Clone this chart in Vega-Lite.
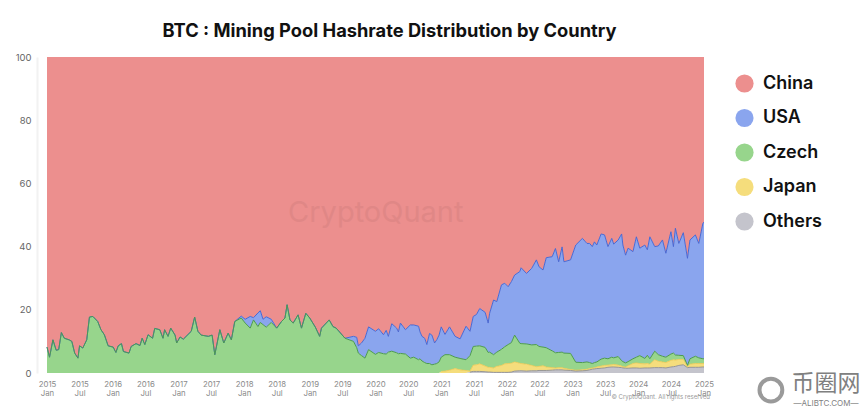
{"$schema":"https://vega.github.io/schema/vega-lite/v6.json","width":657,"height":316,"autosize":{"type":"none"},"padding":{"left":47,"top":57,"right":156,"bottom":37},"background":"white","title":{"text":"BTC : Mining Pool Hashrate Distribution by Country","font":"Inter","fontSize":18.3,"fontWeight":700,"color":"#111111","anchor":"middle","dx":14,"offset":11},"config":{"view":{"stroke":null}},"layer":[{"data":{"values":[
{"d":"2015-01-01","China":91.8,"USA":0,"Czech":8.2,"Japan":0,"Others":0},
{"d":"2015-01-15","China":95,"USA":0,"Czech":5,"Japan":0,"Others":0},
{"d":"2015-02-03","China":89.5,"USA":0,"Czech":10.5,"Japan":0,"Others":0},
{"d":"2015-02-21","China":92.8,"USA":0,"Czech":7.2,"Japan":0,"Others":0},
{"d":"2015-03-07","China":92.6,"USA":0,"Czech":7.4,"Japan":0,"Others":0},
{"d":"2015-03-22","China":87.2,"USA":0,"Czech":12.8,"Japan":0,"Others":0},
{"d":"2015-04-07","China":89,"USA":0,"Czech":11,"Japan":0,"Others":0},
{"d":"2015-05-04","China":89.5,"USA":0,"Czech":10.5,"Japan":0,"Others":0},
{"d":"2015-05-19","China":90,"USA":0,"Czech":10,"Japan":0,"Others":0},
{"d":"2015-06-04","China":93.7,"USA":0,"Czech":6.3,"Japan":0,"Others":0},
{"d":"2015-06-22","China":95.3,"USA":0,"Czech":4.7,"Japan":0,"Others":0},
{"d":"2015-07-01","China":91.4,"USA":0,"Czech":8.6,"Japan":0,"Others":0},
{"d":"2015-07-19","China":92.1,"USA":0,"Czech":7.9,"Japan":0,"Others":0},
{"d":"2015-08-10","China":89.5,"USA":0,"Czech":10.5,"Japan":0,"Others":0},
{"d":"2015-08-25","China":82.3,"USA":0,"Czech":17.7,"Japan":0,"Others":0},
{"d":"2015-09-13","China":82.1,"USA":0,"Czech":17.9,"Japan":0,"Others":0},
{"d":"2015-10-10","China":83.7,"USA":0,"Czech":16.3,"Japan":0,"Others":0},
{"d":"2015-10-28","China":86.3,"USA":0,"Czech":13.7,"Japan":0,"Others":0},
{"d":"2015-11-16","China":87.9,"USA":0,"Czech":12.1,"Japan":0,"Others":0},
{"d":"2015-12-07","China":91.4,"USA":0,"Czech":8.6,"Japan":0,"Others":0},
{"d":"2016-01-04","China":91.8,"USA":0,"Czech":8.2,"Japan":0,"Others":0},
{"d":"2016-01-19","China":93.5,"USA":0,"Czech":6.5,"Japan":0,"Others":0},
{"d":"2016-02-01","China":91.4,"USA":0,"Czech":8.6,"Japan":0,"Others":0},
{"d":"2016-02-19","China":90.7,"USA":0,"Czech":9.3,"Japan":0,"Others":0},
{"d":"2016-03-01","China":93.2,"USA":0,"Czech":6.8,"Japan":0,"Others":0},
{"d":"2016-04-01","China":93.7,"USA":0,"Czech":6.3,"Japan":0,"Others":0},
{"d":"2016-04-13","China":91.6,"USA":0,"Czech":8.4,"Japan":0,"Others":0},
{"d":"2016-05-10","China":90.7,"USA":0,"Czech":9.3,"Japan":0,"Others":0},
{"d":"2016-06-01","China":91.3,"USA":0,"Czech":8.7,"Japan":0,"Others":0},
{"d":"2016-06-13","China":89,"USA":0,"Czech":11,"Japan":0,"Others":0},
{"d":"2016-06-28","China":91,"USA":0,"Czech":9,"Japan":0,"Others":0},
{"d":"2016-07-16","China":87.9,"USA":0,"Czech":12.1,"Japan":0,"Others":0},
{"d":"2016-08-10","China":89,"USA":0,"Czech":11,"Japan":0,"Others":0},
{"d":"2016-08-22","China":85.9,"USA":0,"Czech":14.1,"Japan":0,"Others":0},
{"d":"2016-09-19","China":86.3,"USA":0,"Czech":13.7,"Japan":0,"Others":0},
{"d":"2016-10-07","China":89,"USA":0,"Czech":11,"Japan":0,"Others":0},
{"d":"2016-10-16","China":86.3,"USA":0,"Czech":13.7,"Japan":0,"Others":0},
{"d":"2016-11-04","China":88.4,"USA":0,"Czech":11.6,"Japan":0,"Others":0},
{"d":"2016-11-19","China":85.8,"USA":0,"Czech":14.2,"Japan":0,"Others":0},
{"d":"2016-12-13","China":88,"USA":0,"Czech":12,"Japan":0,"Others":0},
{"d":"2016-12-22","China":90.5,"USA":0,"Czech":9.5,"Japan":0,"Others":0},
{"d":"2017-01-10","China":88.6,"USA":0,"Czech":11.4,"Japan":0,"Others":0},
{"d":"2017-01-28","China":89.3,"USA":0,"Czech":10.7,"Japan":0,"Others":0},
{"d":"2017-03-13","China":86.8,"USA":0,"Czech":13.2,"Japan":0,"Others":0},
{"d":"2017-04-01","China":82.3,"USA":0,"Czech":17.7,"Japan":0,"Others":0},
{"d":"2017-04-19","China":86.8,"USA":0,"Czech":13.2,"Japan":0,"Others":0},
{"d":"2017-05-07","China":88,"USA":0,"Czech":12,"Japan":0,"Others":0},
{"d":"2017-06-16","China":88.4,"USA":0,"Czech":11.6,"Japan":0,"Others":0},
{"d":"2017-07-07","China":88,"USA":0,"Czech":12,"Japan":0,"Others":0},
{"d":"2017-07-22","China":94.2,"USA":0,"Czech":5.8,"Japan":0,"Others":0},
{"d":"2017-08-19","China":86.3,"USA":0,"Czech":13.7,"Japan":0,"Others":0},
{"d":"2017-09-10","China":90.5,"USA":0,"Czech":9.5,"Japan":0,"Others":0},
{"d":"2017-10-04","China":87.4,"USA":0,"Czech":12.6,"Japan":0,"Others":0},
{"d":"2017-10-22","China":89.5,"USA":0,"Czech":10.5,"Japan":0,"Others":0},
{"d":"2017-11-10","China":83.7,"USA":0,"Czech":16.3,"Japan":0,"Others":0},
{"d":"2017-12-16","China":82,"USA":0.6,"Czech":17.4,"Japan":0,"Others":0},
{"d":"2018-01-07","China":83,"USA":1.2,"Czech":15.8,"Japan":0,"Others":0},
{"d":"2018-02-04","China":82.1,"USA":3.7,"Czech":14.2,"Japan":0,"Others":0},
{"d":"2018-02-22","China":82.5,"USA":0.7,"Czech":16.8,"Japan":0,"Others":0},
{"d":"2018-03-19","China":81,"USA":4.3,"Czech":14.7,"Japan":0,"Others":0},
{"d":"2018-04-01","China":80.3,"USA":3.7,"Czech":16,"Japan":0,"Others":0},
{"d":"2018-04-16","China":83,"USA":1.7,"Czech":15.3,"Japan":0,"Others":0},
{"d":"2018-05-04","China":82.2,"USA":3.3,"Czech":14.5,"Japan":0,"Others":0},
{"d":"2018-06-01","China":83,"USA":1,"Czech":16,"Japan":0,"Others":0},
{"d":"2018-07-01","China":85.8,"USA":0,"Czech":14.2,"Japan":0,"Others":0},
{"d":"2018-07-28","China":83.7,"USA":0,"Czech":16.3,"Japan":0,"Others":0},
{"d":"2018-08-16","China":82.6,"USA":0,"Czech":17.4,"Japan":0,"Others":0},
{"d":"2018-08-28","China":78.4,"USA":0,"Czech":21.6,"Japan":0,"Others":0},
{"d":"2018-09-13","China":83.2,"USA":0,"Czech":16.8,"Japan":0,"Others":0},
{"d":"2018-10-01","China":84.2,"USA":0,"Czech":15.8,"Japan":0,"Others":0},
{"d":"2018-10-28","China":81.6,"USA":0,"Czech":18.4,"Japan":0,"Others":0},
{"d":"2018-11-16","China":85.8,"USA":0,"Czech":14.2,"Japan":0,"Others":0},
{"d":"2018-12-10","China":81.1,"USA":0,"Czech":18.9,"Japan":0,"Others":0},
{"d":"2019-01-01","China":82.6,"USA":0,"Czech":17.4,"Japan":0,"Others":0},
{"d":"2019-02-01","China":85.5,"USA":0,"Czech":14.5,"Japan":0,"Others":0},
{"d":"2019-02-25","China":88.4,"USA":0,"Czech":11.6,"Japan":0,"Others":0},
{"d":"2019-03-07","China":85.8,"USA":0,"Czech":14.2,"Japan":0,"Others":0},
{"d":"2019-04-19","China":83.2,"USA":0,"Czech":16.8,"Japan":0,"Others":0},
{"d":"2019-05-10","China":85.3,"USA":0,"Czech":14.7,"Japan":0,"Others":0},
{"d":"2019-05-28","China":85.8,"USA":0,"Czech":14.2,"Japan":0,"Others":0},
{"d":"2019-07-16","China":89,"USA":0,"Czech":11,"Japan":0,"Others":0},
{"d":"2019-09-01","China":88.4,"USA":1.6,"Czech":10,"Japan":0,"Others":0},
{"d":"2019-09-19","China":88.7,"USA":3.3,"Czech":8,"Japan":0,"Others":0},
{"d":"2019-09-28","China":91.4,"USA":2.3,"Czech":6.3,"Japan":0,"Others":0},
{"d":"2019-10-16","China":90.5,"USA":4,"Czech":5.5,"Japan":0,"Others":0},
{"d":"2019-11-04","China":89,"USA":6.3,"Czech":4.7,"Japan":0,"Others":0},
{"d":"2019-11-24","China":85.4,"USA":7.2,"Czech":7.4,"Japan":0,"Others":0},
{"d":"2020-01-01","China":86.8,"USA":7.3,"Czech":5.9,"Japan":0,"Others":0},
{"d":"2020-01-19","China":86,"USA":7.5,"Czech":6.5,"Japan":0,"Others":0},
{"d":"2020-02-15","China":87.9,"USA":6,"Czech":6.1,"Japan":0,"Others":0},
{"d":"2020-03-01","China":86.5,"USA":7.5,"Czech":6,"Japan":0,"Others":0},
{"d":"2020-03-13","China":88.4,"USA":5,"Czech":6.6,"Japan":0,"Others":0},
{"d":"2020-04-01","China":84.4,"USA":8.7,"Czech":6.9,"Japan":0,"Others":0},
{"d":"2020-04-28","China":85.8,"USA":7.8,"Czech":6.4,"Japan":0,"Others":0},
{"d":"2020-05-08","China":87,"USA":6.9,"Czech":6.1,"Japan":0,"Others":0},
{"d":"2020-05-19","China":84.2,"USA":9.6,"Czech":6.2,"Japan":0,"Others":0},
{"d":"2020-06-16","China":86.3,"USA":7.7,"Czech":6,"Japan":0,"Others":0},
{"d":"2020-07-13","China":84.8,"USA":10.5,"Czech":4.7,"Japan":0,"Others":0},
{"d":"2020-08-01","China":84.8,"USA":10.2,"Czech":5,"Japan":0,"Others":0},
{"d":"2020-08-28","China":85.2,"USA":10.6,"Czech":4.2,"Japan":0,"Others":0},
{"d":"2020-09-05","China":87,"USA":8.5,"Czech":4.5,"Japan":0,"Others":0},
{"d":"2020-09-16","China":88.4,"USA":7.8,"Czech":3.8,"Japan":0,"Others":0},
{"d":"2020-10-01","China":89,"USA":7.7,"Czech":3.3,"Japan":0,"Others":0},
{"d":"2020-10-13","China":91,"USA":6,"Czech":3,"Japan":0,"Others":0},
{"d":"2020-10-28","China":87.5,"USA":9.5,"Czech":3,"Japan":0,"Others":0},
{"d":"2020-11-10","China":88,"USA":9.4,"Czech":2.6,"Japan":0,"Others":0},
{"d":"2020-11-25","China":90.5,"USA":6.7,"Czech":2.8,"Japan":0,"Others":0},
{"d":"2020-12-07","China":89.5,"USA":7.5,"Czech":3,"Japan":0,"Others":0},
{"d":"2020-12-20","China":88,"USA":8.5,"Czech":3.5,"Japan":0,"Others":0},
{"d":"2021-01-01","China":85.4,"USA":9.6,"Czech":4.5,"Japan":0.5,"Others":0},
{"d":"2021-01-22","China":87.8,"USA":6.4,"Czech":5.2,"Japan":0.6,"Others":0},
{"d":"2021-02-16","China":85.4,"USA":8.8,"Czech":4.9,"Japan":0.9,"Others":0},
{"d":"2021-03-19","China":88.4,"USA":6.6,"Czech":3.6,"Japan":1.4,"Others":0},
{"d":"2021-04-16","China":89.2,"USA":6.2,"Czech":3.6,"Japan":1,"Others":0},
{"d":"2021-05-19","China":85.2,"USA":10.6,"Czech":3.4,"Japan":0.8,"Others":0},
{"d":"2021-06-10","China":86.8,"USA":7.7,"Czech":4.9,"Japan":0.3,"Others":0.3},
{"d":"2021-06-28","China":82.1,"USA":9.5,"Czech":5.9,"Japan":2,"Others":0.5},
{"d":"2021-07-16","China":81.5,"USA":10,"Czech":5.9,"Japan":2.1,"Others":0.5},
{"d":"2021-08-03","China":79.6,"USA":11.8,"Czech":5.7,"Japan":2.4,"Others":0.5},
{"d":"2021-09-02","China":80.8,"USA":11.1,"Czech":5.9,"Japan":1.8,"Others":0.4},
{"d":"2021-09-19","China":84.2,"USA":9.3,"Czech":4.7,"Japan":1.5,"Others":0.3},
{"d":"2021-09-27","China":81.1,"USA":12.3,"Czech":4.8,"Japan":1.5,"Others":0.3},
{"d":"2021-10-19","China":76.9,"USA":17.3,"Czech":4.2,"Japan":1.4,"Others":0.2},
{"d":"2021-11-06","China":77.4,"USA":16,"Czech":4.5,"Japan":1.9,"Others":0.2},
{"d":"2021-12-02","China":72.1,"USA":20.4,"Czech":5.1,"Japan":2.2,"Others":0.2},
{"d":"2021-12-20","China":71.6,"USA":20.1,"Czech":5.4,"Japan":2.7,"Others":0.2},
{"d":"2022-01-08","China":72.7,"USA":18.3,"Czech":6,"Japan":2.8,"Others":0.2},
{"d":"2022-01-26","China":71.1,"USA":19.3,"Czech":6.5,"Japan":2.8,"Others":0.3},
{"d":"2022-02-13","China":69,"USA":19,"Czech":8.5,"Japan":2.9,"Others":0.6},
{"d":"2022-03-14","China":67.9,"USA":22.7,"Czech":6.3,"Japan":2.4,"Others":0.7},
{"d":"2022-03-21","China":66.7,"USA":24,"Czech":6.3,"Japan":2.3,"Others":0.7},
{"d":"2022-04-20","China":68.5,"USA":22.3,"Czech":6.4,"Japan":2.2,"Others":0.6},
{"d":"2022-05-19","China":66.9,"USA":24.2,"Czech":6.5,"Japan":1.7,"Others":0.7},
{"d":"2022-06-14","China":64.2,"USA":26.8,"Czech":7,"Japan":1.3,"Others":0.7},
{"d":"2022-06-29","China":66.4,"USA":25.2,"Czech":6.3,"Japan":1.3,"Others":0.8},
{"d":"2022-07-21","China":67.4,"USA":24.4,"Czech":5.9,"Japan":1.5,"Others":0.8},
{"d":"2022-08-08","China":63.5,"USA":28.5,"Czech":6.1,"Japan":1.1,"Others":0.8},
{"d":"2022-09-10","China":63.2,"USA":29.8,"Czech":5.3,"Japan":0.8,"Others":0.9},
{"d":"2022-09-28","China":60.6,"USA":33,"Czech":4.8,"Japan":0.6,"Others":1},
{"d":"2022-10-16","China":64.8,"USA":28.7,"Czech":4.8,"Japan":0.7,"Others":1},
{"d":"2022-11-04","China":60.1,"USA":33.3,"Czech":4.9,"Japan":0.7,"Others":1},
{"d":"2022-11-14","China":64.8,"USA":28.9,"Czech":4.8,"Japan":0.6,"Others":0.9},
{"d":"2022-12-21","China":64.2,"USA":29.6,"Czech":5.1,"Japan":0.3,"Others":0.8},
{"d":"2023-01-19","China":59.5,"USA":37.1,"Czech":2.5,"Japan":0.3,"Others":0.6},
{"d":"2023-02-25","China":57.4,"USA":39.3,"Czech":2.3,"Japan":0.3,"Others":0.7},
{"d":"2023-03-22","China":59,"USA":37.5,"Czech":2.3,"Japan":0.4,"Others":0.8},
{"d":"2023-04-06","China":59,"USA":37.7,"Czech":1.9,"Japan":0.4,"Others":1},
{"d":"2023-04-21","China":60,"USA":37,"Czech":1.4,"Japan":0.4,"Others":1.2},
{"d":"2023-05-03","China":58.5,"USA":38.2,"Czech":1.6,"Japan":0.4,"Others":1.3},
{"d":"2023-05-16","China":59.5,"USA":37,"Czech":1.6,"Japan":0.5,"Others":1.4},
{"d":"2023-06-09","China":56,"USA":39.6,"Czech":2.2,"Japan":0.7,"Others":1.5},
{"d":"2023-06-28","China":56.3,"USA":39,"Czech":2.3,"Japan":0.8,"Others":1.6},
{"d":"2023-07-17","China":60,"USA":35.5,"Czech":2,"Japan":0.7,"Others":1.8},
{"d":"2023-08-07","China":57.4,"USA":37.6,"Czech":2.4,"Japan":0.7,"Others":1.9},
{"d":"2023-08-18","China":59.2,"USA":36,"Czech":2.1,"Japan":0.8,"Others":1.9},
{"d":"2023-09-12","China":57.9,"USA":36.9,"Czech":2.7,"Japan":0.7,"Others":1.8},
{"d":"2023-10-01","China":56,"USA":40.1,"Czech":1.7,"Japan":0.5,"Others":1.7},
{"d":"2023-10-08","China":59.5,"USA":36.9,"Czech":1.6,"Japan":0.4,"Others":1.6},
{"d":"2023-10-23","China":62.7,"USA":34.1,"Czech":1.3,"Japan":0.4,"Others":1.5},
{"d":"2023-11-06","China":60.5,"USA":35.9,"Czech":1.3,"Japan":0.8,"Others":1.5},
{"d":"2023-12-03","China":61.6,"USA":33.9,"Czech":1.5,"Japan":1.4,"Others":1.6},
{"d":"2023-12-22","China":56.9,"USA":38.1,"Czech":1.8,"Japan":1.6,"Others":1.6},
{"d":"2024-01-10","China":60.5,"USA":34,"Czech":2.5,"Japan":1.5,"Others":1.5},
{"d":"2024-02-07","China":59.5,"USA":35.9,"Czech":1.7,"Japan":1.3,"Others":1.6},
{"d":"2024-02-21","China":61,"USA":33.4,"Czech":2.6,"Japan":1.4,"Others":1.6},
{"d":"2024-03-06","China":56.9,"USA":38.6,"Czech":1.7,"Japan":1.2,"Others":1.6},
{"d":"2024-04-02","China":60,"USA":33.1,"Czech":2.7,"Japan":2.5,"Others":1.7},
{"d":"2024-04-22","China":59.8,"USA":34.4,"Czech":2.1,"Japan":2,"Others":1.7},
{"d":"2024-05-15","China":57.9,"USA":36.8,"Czech":1.8,"Japan":1.8,"Others":1.7},
{"d":"2024-06-03","China":62.1,"USA":32.9,"Czech":1.7,"Japan":1.7,"Others":1.6},
{"d":"2024-07-01","China":55.3,"USA":38.7,"Czech":2,"Japan":2.1,"Others":1.9},
{"d":"2024-07-15","China":60,"USA":33.7,"Czech":2.1,"Japan":2.2,"Others":2},
{"d":"2024-07-26","China":54.2,"USA":40.1,"Czech":1.6,"Japan":2,"Others":2.1},
{"d":"2024-08-14","China":59,"USA":35.4,"Czech":1.3,"Japan":1.9,"Others":2.4},
{"d":"2024-09-08","China":55.6,"USA":38.9,"Czech":1.2,"Japan":1.7,"Others":2.6},
{"d":"2024-10-01","China":63.7,"USA":33.9,"Czech":0.4,"Japan":0.3,"Others":1.7},
{"d":"2024-10-15","China":57.9,"USA":37.6,"Czech":1.7,"Japan":1,"Others":1.8},
{"d":"2024-11-14","China":56.3,"USA":38.4,"Czech":2.3,"Japan":1.2,"Others":1.8},
{"d":"2024-12-03","China":59,"USA":36.2,"Czech":1.8,"Japan":1.2,"Others":1.8},
{"d":"2024-12-26","China":52.6,"USA":42.9,"Czech":1.5,"Japan":1.1,"Others":1.9},
{"d":"2025-01-01","China":52.3,"USA":43.2,"Czech":1.5,"Japan":1.1,"Others":1.9}
],"format":{"parse":{"d":"utc:'%Y-%m-%d'"}}},"transform":[{"fold":["China","USA","Czech","Japan","Others"],"as":["country","share"]},{"lookup":"country","from":{"data":{"values":[{"country":"Others","rank":1},{"country":"Japan","rank":2},{"country":"Czech","rank":3},{"country":"USA","rank":4},{"country":"China","rank":5}]},"key":"country","fields":["rank"]}},{"stack":"share","groupby":["d"],"sort":[{"field":"rank","order":"ascending"}],"as":["low","high"]}],"layer":[{"mark":{"type":"area","interpolate":"linear"},"encoding":{"x":{"field":"d","type":"temporal","scale":{"type":"utc","domain":[{"year":2015,"month":1,"date":1,"utc":true},{"year":2025,"month":1,"date":1,"utc":true}]},"axis":{"title":null,"grid":false,"domain":false,"ticks":false,"tickCount":{"interval":"month","step":6},"labelExpr":"[utcFormat(datum.value,'%Y'),utcFormat(datum.value,'%b')]","labelFont":"Inter","labelFontSize":7.8,"labelColor":"#8a8a8a","labelLineHeight":9,"labelPadding":7,"labelOverlap":false,"labelBound":false,"labelFlush":false}},"y":{"field":"low","type":"quantitative","scale":{"domain":[0,100]},"axis":{"title":null,"grid":false,"offset":10,"values":[0,20,40,60,80,100],"domain":true,"domainColor":"#f2f2f2","domainWidth":2,"ticks":false,"labelFont":"Inter","labelFontSize":9.5,"labelColor":"#666666","labelPadding":6}},"y2":{"field":"high"},"color":{"field":"country","type":"nominal","scale":{"domain":["China","USA","Czech","Japan","Others"],"range":["#ec8f8e","#8aa5ee","#97d58c","#f5dd7c","#c4c4cc"]},"legend":{"title":null,"orient":"none","legendX":688,"legendY":17,"symbolType":"circle","symbolSize":330,"symbolStrokeWidth":0,"labelFont":"Inter","labelFontSize":18,"labelFontWeight":600,"labelColor":"#111111","labelOffset":9,"rowPadding":15.5,"symbolOpacity":1}}}},{"transform":[{"filter":"datum.country == 'USA'"}],"mark":{"type":"line","interpolate":"linear","strokeWidth":1,"color":"#4a68d2"},"encoding":{"x":{"field":"d","type":"temporal"},"y":{"field":"high","type":"quantitative"}}},{"transform":[{"filter":"datum.country == 'Czech'"}],"mark":{"type":"line","interpolate":"linear","strokeWidth":1,"color":"#4c9a50"},"encoding":{"x":{"field":"d","type":"temporal"},"y":{"field":"high","type":"quantitative"}}},{"transform":[{"filter":"datum.country == 'Japan' && datum.share > 0"}],"mark":{"type":"line","interpolate":"linear","strokeWidth":0.8,"color":"#e8c850"},"encoding":{"x":{"field":"d","type":"temporal"},"y":{"field":"high","type":"quantitative"}}},{"transform":[{"filter":"datum.country == 'Others' && datum.share > 0"}],"mark":{"type":"line","interpolate":"linear","strokeWidth":0.9,"color":"#8f8f8f"},"encoding":{"x":{"field":"d","type":"temporal"},"y":{"field":"high","type":"quantitative"}}}]},{"data":{"values":[{}]},"mark":{"type":"text","text":"CryptoQuant","font":"Inter","fontSize":29,"color":"#e08786","align":"center","baseline":"middle"},"encoding":{"x":{"datum":{"year":2020,"month":1,"date":3,"utc":true},"type":"temporal"},"y":{"datum":50.6,"type":"quantitative"}}},{"data":{"values":[{}]},"mark":{"type":"text","text":"© CryptoQuant. All rights reserved","font":"Inter","fontSize":6,"color":"#999999","align":"right","baseline":"middle"},"encoding":{"x":{"datum":{"year":2025,"month":2,"date":3,"utc":true},"type":"temporal"},"y":{"datum":-7.6,"type":"quantitative"}}},{"data":{"values":[{}]},"mark":{"type":"text","text":"币圈网","font":"Noto Sans CJK SC","fontSize":23,"color":"#808080","align":"center","baseline":"middle"},"encoding":{"x":{"datum":{"year":2026,"month":11,"date":10,"utc":true},"type":"temporal"},"y":{"datum":-3.5,"type":"quantitative"}}},{"data":{"values":[{}]},"mark":{"type":"text","text":"—ALIBTC.COM—","font":"Inter","fontSize":8,"color":"#808080","align":"center","baseline":"middle"},"encoding":{"x":{"datum":{"year":2026,"month":11,"date":10,"utc":true},"type":"temporal"},"y":{"datum":-9.8,"type":"quantitative"}}},{"data":{"values":[{}]},"mark":{"type":"point","filled":false,"shape":"circle","size":520,"strokeWidth":4,"color":"#9a9a9a","opacity":1},"encoding":{"x":{"datum":{"year":2026,"month":1,"date":8,"utc":true},"type":"temporal"},"y":{"datum":-5.4,"type":"quantitative"}}}]}
